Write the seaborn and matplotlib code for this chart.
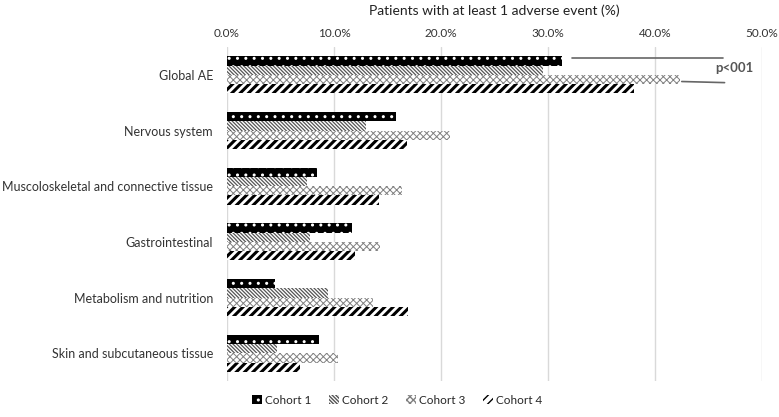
import matplotlib
matplotlib.use("Agg")
import matplotlib.pyplot as plt
import seaborn as sns
import pandas as pd
from matplotlib.patches import Patch

categories = ["Global AE", "Nervous system", "Muscoloskeletal and connective tissue",
              "Gastrointestinal", "Metabolism and nutrition", "Skin and subcutaneous tissue"]
cohorts = ["Cohort 1", "Cohort 2", "Cohort 3", "Cohort 4"]
cohort1 = [31.3, 15.8, 8.4, 11.7, 4.5, 8.6]
cohort2 = [29.5, 13.0, 7.5, 7.8, 9.4, 4.7]
cohort3 = [42.3, 20.8, 16.4, 14.3, 13.6, 10.4]
cohort4 = [38.0, 16.8, 14.2, 12.0, 16.9, 6.8]
xticks = [0, 10, 20, 30, 40, 50]

rows = []
for name, vals in zip(cohorts, [cohort1, cohort2, cohort3, cohort4]):
    for c, v in zip(categories, vals):
        rows.append({"category": c, "cohort": name, "value": v})
df = pd.DataFrame(rows)

sns.set_style("white")
plt.rcParams["font.family"] = ["Lato", "DejaVu Sans"]

fig = plt.figure(figsize=(7.79, 4.17), dpi=100)
ax = fig.add_axes([0.2914, 0.0863, 0.6868, 0.801])

sns.barplot(data=df, x="value", y="category", hue="cohort", order=categories,
            hue_order=cohorts, orient="h", width=0.67, ax=ax, legend=False,
            errorbar=None)

styles = [
    dict(face="black", hcol="white", hatch="..", hlw=1.0),
    dict(face="white", hcol="#555555", hatch="\\" * 9, hlw=0.9),
    dict(face="white", hcol="#808080", hatch="x" * 5, hlw=0.7),
    dict(face="white", hcol="black", hatch="////", hlw=2.2),
]
for cont, st in zip(ax.containers, styles):
    for p in cont:
        p.set_facecolor(st["face"])
        p.set_edgecolor(st["hcol"])
        p.set_linewidth(0)
        p.set_hatch(st["hatch"])
        if hasattr(p, "set_hatch_linewidth"):
            p.set_hatch_linewidth(st["hlw"])

ax.set_ylim(5.5, -0.5)
ax.set_xlim(0, 50)
ax.set_xticks(xticks)
ax.set_xticklabels([f"{t:.1f}%" for t in xticks])
ax.xaxis.tick_top()
ax.xaxis.set_label_position("top")
ax.set_xlabel("Patients with at least 1 adverse event (%)", fontsize=10, color="#222222", labelpad=9)
ax.set_ylabel("")
ax.tick_params(axis="x", length=0, labelsize=8.5, colors="#333333", pad=6)
ax.tick_params(axis="y", length=0, labelsize=9, colors="#333333", pad=10)
ax.grid(axis="x", color="#d9d9d9", linewidth=1)
ax.set_axisbelow(True)
for s in ax.spines.values():
    s.set_visible(False)

# p-value annotation
ax.plot([32.2, 46.4], [-0.30, -0.30], color="#666666", lw=1.2, clip_on=False)
ax.plot([42.5, 46.5], [0.12, 0.14], color="#666666", lw=1.2, clip_on=False)
ax.text(45.6, -0.12, "p<001", fontsize=9.5, fontweight="bold", color="#555555",
        va="center", ha="left")

handles = [Patch(facecolor=st["face"], edgecolor=st["hcol"], hatch=st["hatch"], linewidth=0)
           for st in styles]
fig.legend(handles, cohorts, loc="center", bbox_to_anchor=(0.51, 0.04), ncol=4,
           frameon=False, fontsize=8.5, handlelength=0.8, handleheight=0.8,
           handletextpad=0.3, columnspacing=1.5)

fig.savefig("out.png", dpi=100)
